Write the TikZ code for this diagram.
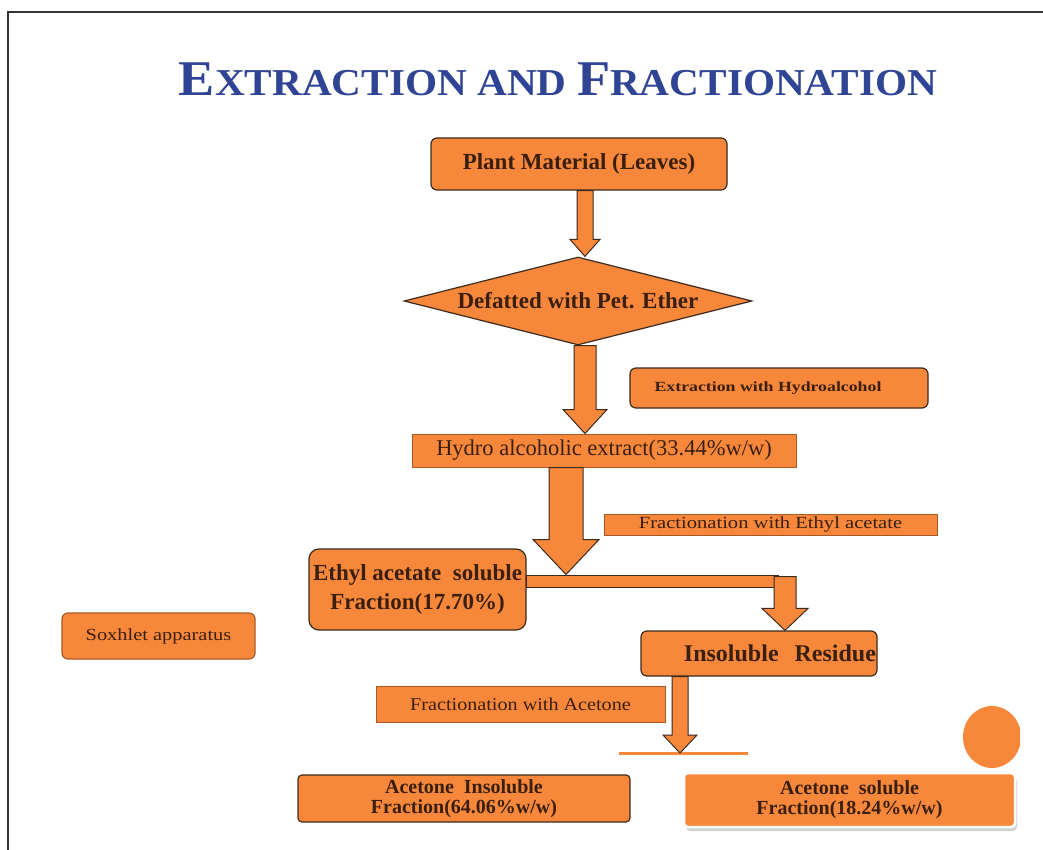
\documentclass[tikz,border=0pt]{standalone}
\usepackage{fontspec}
\usepackage{graphicx}
\setmainfont{Liberation Serif}
\usetikzlibrary{shapes.geometric,calc,shadows}
\definecolor{org}{HTML}{F7883B}
\definecolor{brd}{HTML}{3B2A1E}
\definecolor{txt}{HTML}{3A1F0E}
\definecolor{ttl}{HTML}{2F4494}
\definecolor{rbrd}{HTML}{A85A25}
\definecolor{frm}{HTML}{333333}
\newcommand{\blockarrow}[5]{\draw[barrow] let \p1=(#1), \p2=(#2) in (\x2-#3,\y1) -- (\x2+#3,\y1) -- (\x2+#3,\y2+#5) -- (\x2+#4,\y2+#5) -- (\x2,\y2) -- (\x2-#4,\y2+#5) -- (\x2-#3,\y2+#5) -- cycle;}
\newcommand{\fs}[2]{\fontsize{#1}{#2}\selectfont}
\tikzset{
  box/.style={draw=brd, fill=org, line width=1.2pt, text=txt, inner sep=1pt, align=center},
  rbox/.style={box, rounded corners=6pt},
  sbox/.style={box, draw=rbrd, line width=1pt},
  barrow/.style={draw=brd, fill=org, line width=1pt, line join=miter},
}
\begin{document}
\begin{tikzpicture}[x=1pt,y=-1pt]
\fill[white] (0,0) rectangle (1043,850);
\useasboundingbox (0,0) rectangle (1043,850);
\draw[frm, line width=2pt] (8,850) -- (8,12) -- (1043,12);

\node[text=ttl, inner sep=0] (title) at (558,79) {\scalebox{1.085}[1]{\bfseries\fs{50}{50}E\fs{38}{38}XTRACTION AND \fs{50}{50}F\fs{38}{38}RACTIONATION}};

\node[rbox, minimum width=296pt, minimum height=52pt, font=\bfseries\fs{23}{26}] (plant) at (579,164) {Plant Material (Leaves)};
\node[box, diamond, aspect=4, inner sep=0pt, minimum width=348pt, minimum height=88pt, font=\bfseries\fs{23}{26}] (diam) at (578,301) {Defatted with Pet. Ether};
\node[rbox, minimum width=298pt, minimum height=40pt, font=\bfseries\fs{14}{16}] (exh) at (779,388) {\hspace*{-22pt}\scalebox{1.27}[1]{Extraction with Hydroalcohol}};
\node[sbox, minimum width=384pt, minimum height=33pt, font=\fs{22.5}{25}] (hydro) at (604,450.5) {Hydro alcoholic extract(33.44\%w/w)};
\node[sbox, minimum width=333pt, minimum height=21pt, font=\fs{17}{19}] (fea) at (770.5,524.5) {\scalebox{1.21}[1]{Fractionation with Ethyl acetate}};
\node[rbox, rounded corners=10pt, minimum width=217pt, minimum height=81pt, font=\bfseries\fs{23}{29}] (eth) at (417.5,589.5) {Ethyl acetate\ \ soluble\\Fraction(17.70\%)};
\node[box, line width=1pt, minimum width=252pt, minimum height=12pt, inner sep=0pt] (bar) at (652,581) {};
\node[rbox, minimum width=236pt, minimum height=45pt, text width=234pt, align=right, inner sep=1pt, font=\bfseries\fs{24}{26}] (insol) at (759,653.5) {Insoluble\ \ Residue};
\node[rbox, draw=rbrd, minimum width=193pt, minimum height=46pt, font=\fs{17}{19}] (sox) at (158.5,636) {\scalebox{1.2}[1]{Soxhlet apparatus}};
\node[sbox, minimum width=289pt, minimum height=36pt, font=\fs{18}{20}] (fac) at (520.5,704) {\scalebox{1.12}[1]{Fractionation with Acetone}};
\node[box, rounded corners=4pt, minimum width=332pt, minimum height=47pt, font=\bfseries\fs{20}{20}] (ains) at (464,798.5) {Acetone\ \ Insoluble\\Fraction(64.06\%w/w)};
\node[box, draw=white, line width=2.5pt, rounded corners=4pt, drop shadow={opacity=0.35, shadow xshift=2pt, shadow yshift=-4pt}, minimum width=331pt, minimum height=54pt, font=\bfseries\fs{20}{20}] (asol) at (849.5,800) {Acetone\ \ soluble\\Fraction(18.24\%w/w)};

\coordinate (sw) at (619,753);
\coordinate (se) at (748,753);
\draw[org, line width=3pt] (sw) -- (se);

\blockarrow{plant.south}{[xshift=7pt]diam.north}{8pt}{15pt}{17pt}
\blockarrow{diam.south}{[xshift=-19pt]hydro.north}{11pt}{22pt}{24pt}
\blockarrow{hydro.south}{[xshift=-86pt]bar.north}{17pt}{33pt}{35pt}
\blockarrow{[yshift=-2pt]bar.north}{[xshift=26pt]insol.north}{11pt}{23pt}{22pt}
\blockarrow{insol.south}{[xshift=61pt]sw}{8pt}{17pt}{18pt}

\begin{scope}
\clip (900,690) rectangle (1020,780);
\fill[org] (992,737) ellipse (29pt and 31pt);
\end{scope}
\end{tikzpicture}
\end{document}
